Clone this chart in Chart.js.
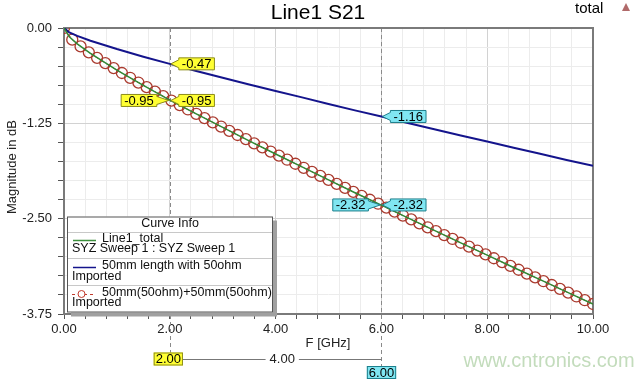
<!DOCTYPE html>
<html><head><meta charset="utf-8">
<script src="https://cdn.jsdelivr.net/npm/chart.js@4/dist/chart.umd.min.js"></script>
<style>html,body{margin:0;padding:0;background:#fff;}#wrap{width:640px;height:383px;position:relative;}</style>
</head><body><div id="wrap"><canvas id="c" width="640" height="383"></canvas></div>
<script>
const chartTitle = "Line1 S21";
const xTitle = "F [GHz]";
const yTitle = "Magnitude in dB";
const legendTitle = "Curve Info";
const seriesNames = ["Line1_total", "50mm length with 50ohm", "50mm(50ohm)+50mm(50ohm)"];
const seriesSub = ["SYZ Sweep 1 : SYZ Sweep 1", "Imported", "Imported"];

const freqLine = [0,0.1,0.25,0.5,1,1.5,2,2.5,3,3.5,4,4.5,5,5.5,6,6.5,7,7.5,8,8.5,9,9.5,10];
const magBlue = [0,-0.058,-0.104,-0.167,-0.276,-0.376,-0.470,-0.563,-0.652,-0.740,-0.826,-0.910,-0.996,-1.080,-1.160,-1.245,-1.327,-1.409,-1.489,-1.570,-1.650,-1.730,-1.805];
const magGreen = [0,-0.116,-0.208,-0.334,-0.552,-0.752,-0.945,-1.126,-1.304,-1.480,-1.652,-1.820,-1.992,-2.160,-2.322,-2.490,-2.654,-2.818,-2.978,-3.140,-3.300,-3.460,-3.619];

const freqRed = [0,0.156,0.313,0.469,0.625,0.781,0.938,1.094,1.25,1.406,1.563,1.719,1.875,2.031,2.188,2.344,2.5,2.656,2.813,2.969,3.125,3.281,3.438,3.594,3.75,3.906,4.063,4.219,4.375,4.531,4.688,4.844,5,5.156,5.313,5.469,5.625,5.781,5.938,6.094,6.25,6.406,6.563,6.719,6.875,7.031,7.188,7.344,7.5,7.656,7.813,7.969,8.125,8.281,8.438,8.594,8.75,8.906,9.063,9.219,9.375,9.531,9.688,9.844,10];
const magRed = [0,-0.153,-0.241,-0.319,-0.391,-0.460,-0.526,-0.590,-0.653,-0.715,-0.776,-0.835,-0.894,-0.953,-1.011,-1.068,-1.125,-1.181,-1.237,-1.292,-1.348,-1.403,-1.457,-1.512,-1.566,-1.620,-1.673,-1.727,-1.780,-1.833,-1.886,-1.939,-1.992,-2.044,-2.096,-2.149,-2.201,-2.252,-2.304,-2.356,-2.408,-2.459,-2.510,-2.562,-2.613,-2.664,-2.715,-2.766,-2.816,-2.867,-2.918,-2.968,-3.019,-3.069,-3.119,-3.170,-3.220,-3.270,-3.320,-3.370,-3.420,-3.470,-3.520,-3.569,-3.619];

const markerX = [2, 6];
const markerBlue = [-0.47, -1.16];
const markerGreen = [-0.95, -2.32];
const markerRed = [-0.95, -2.32];
const markerColors = ["#ffff33", "#80e6f2"];
const markerBorders = ["#8c8c1a", "#1d7f8c"];
const deltaLabel = "4.00";
const watermark = "www.cntronics.com";

const FONT = "'Liberation Sans', Arial, sans-serif";
const pts = (xs, ys) => xs.map((x, i) => ({x: x, y: ys[i]}));
const near = (v, s) => Math.abs(v / s - Math.round(v / s)) < 1e-6;

function tag(ctx, px, py, text, side, fill, stroke) {
  ctx.font = "13px " + FONT;
  const w = ctx.measureText(text).width + 6, h = 12;
  const gap = side === "right" ? 9 : 13;
  let bx = side === "right" ? px + gap : px - gap - w;
  const by = py - h / 2;
  ctx.fillStyle = fill; ctx.strokeStyle = stroke; ctx.lineWidth = 1;
  ctx.beginPath();
  if (side === "right") {
    ctx.moveTo(px + 1, py); ctx.lineTo(bx, by + 2); ctx.lineTo(bx, by);
    ctx.lineTo(bx + w, by); ctx.lineTo(bx + w, by + h); ctx.lineTo(bx, by + h); ctx.lineTo(bx, by + h - 2);
  } else {
    ctx.moveTo(px - 1, py); ctx.lineTo(bx + w, by + h - 2); ctx.lineTo(bx + w, by + h);
    ctx.lineTo(bx, by + h); ctx.lineTo(bx, by); ctx.lineTo(bx + w, by); ctx.lineTo(bx + w, by + 2);
  }
  ctx.closePath(); ctx.fill(); ctx.stroke();
  ctx.fillStyle = "#000"; ctx.textAlign = "center"; ctx.textBaseline = "middle";
  ctx.fillText(text, bx + w / 2, py + 0.5);
}
function box(ctx, cx, cy, text, fill, stroke) {
  ctx.font = "13px " + FONT;
  const w = ctx.measureText(text).width + 4, h = 13;
  ctx.fillStyle = fill; ctx.strokeStyle = stroke; ctx.lineWidth = 1;
  ctx.fillRect(cx - w / 2, cy - h / 2, w, h);
  ctx.strokeRect(cx - w / 2 + 0.5, cy - h / 2 + 0.5, w - 1, h - 1);
  ctx.fillStyle = "#000"; ctx.textAlign = "center"; ctx.textBaseline = "middle";
  ctx.fillText(text, cx, cy + 0.5);
  return w;
}

const deco = {
  id: "deco",
  beforeDatasetsDraw(chart) {
    const ctx = chart.ctx, a = chart.chartArea, xs = chart.scales.x;
    ctx.save();
    ctx.strokeStyle = "#8a8a8a"; ctx.lineWidth = 1; ctx.setLineDash([4, 3]);
    const ends = [353, 366];
    markerX.forEach((f, i) => {
      const px = Math.round(xs.getPixelForValue(f)) + 0.5;
      ctx.beginPath(); ctx.moveTo(px, a.top); ctx.lineTo(px, ends[i]); ctx.stroke();
    });
    ctx.setLineDash([]);
    ctx.strokeStyle = "#7a7a7a"; ctx.lineWidth = 2;
    ctx.strokeRect(a.left, a.top, a.right - a.left, a.bottom - a.top);
    ctx.restore();
  },
  afterDraw(chart) {
    const ctx = chart.ctx, a = chart.chartArea, xs = chart.scales.x, ys = chart.scales.y;
    ctx.save();
    ctx.fillStyle = "#000"; ctx.textAlign = "center"; ctx.textBaseline = "alphabetic";
    ctx.font = "21px " + FONT; ctx.fillText(chartTitle, 318, 19);
    ctx.textAlign = "left"; ctx.font = "15px " + FONT; ctx.fillText("total", 575, 13);
    ctx.fillStyle = "#b06a6a";
    ctx.beginPath(); ctx.moveTo(626, 3); ctx.lineTo(630, 11); ctx.lineTo(622, 11); ctx.closePath(); ctx.fill();
    ctx.fillStyle = "#222"; ctx.font = "13px " + FONT; ctx.textAlign = "center"; ctx.textBaseline = "middle";
    ctx.fillText(xTitle, (a.left + a.right) / 2 - 0.5, 343);
    ctx.save(); ctx.translate(12, 167); ctx.rotate(-Math.PI / 2); ctx.fillText(yTitle, 0, 0); ctx.restore();
    markerX.forEach((f, i) => {
      const px = xs.getPixelForValue(f);
      tag(ctx, px, ys.getPixelForValue(markerBlue[i]), markerBlue[i].toFixed(2), "right", markerColors[i], markerBorders[i]);
      tag(ctx, px, ys.getPixelForValue(markerGreen[i]), markerGreen[i].toFixed(2), "right", markerColors[i], markerBorders[i]);
      tag(ctx, px, ys.getPixelForValue(markerRed[i]), markerRed[i].toFixed(2), "left", markerColors[i], markerBorders[i]);
    });
    const p0 = xs.getPixelForValue(markerX[0]), p1 = Math.round(xs.getPixelForValue(markerX[1])) + 0.5;
    const w0 = box(ctx, p0 - 1.5, 359, markerX[0].toFixed(2), markerColors[0], markerBorders[0]);
    ctx.strokeStyle = "#777"; ctx.lineWidth = 1;
    ctx.beginPath(); ctx.moveTo(p0 - 1.5 + w0 / 2, 359.5); ctx.lineTo(p1, 359.5); ctx.stroke();
    const mid = (p0 - 1.5 + w0 / 2 + p1) / 2;
    ctx.font = "13px " + FONT; const dw = ctx.measureText(deltaLabel).width + 8;
    ctx.fillStyle = "#fff"; ctx.fillRect(mid - dw / 2, 352, dw, 14);
    ctx.fillStyle = "#222"; ctx.textAlign = "center"; ctx.textBaseline = "middle";
    ctx.fillText(deltaLabel, mid, 359.5);
    box(ctx, p1, 372.5, markerX[1].toFixed(2), markerColors[1], markerBorders[1]);
    const L = 67, T = 216.5, W = 206, H = 96;
    ctx.fillStyle = "#a0a0a0"; ctx.fillRect(L + 4, T + 4, W, H);
    ctx.fillStyle = "#fff"; ctx.fillRect(L, T, W, H);
    ctx.strokeStyle = "#555"; ctx.lineWidth = 1; ctx.strokeRect(L + 0.5, T + 0.5, W - 1, H - 1);
    ctx.strokeStyle = "#c8c8c8";
    [232.5, 258.5, 285.5].forEach(y => { ctx.beginPath(); ctx.moveTo(L + 1, y); ctx.lineTo(L + W - 1, y); ctx.stroke(); });
    ctx.fillStyle = "#111"; ctx.font = "12.5px " + FONT; ctx.textAlign = "center"; ctx.textBaseline = "middle";
    ctx.fillText(legendTitle, L + W / 2, 223.5);
    ctx.textAlign = "left";
    const nameY = [238.5, 266, 293], subY = [249, 276.5, 303];
    for (let i = 0; i < 3; i++) {
      ctx.fillStyle = "#111";
      ctx.fillText(seriesNames[i], 102, nameY[i]);
      ctx.fillText(seriesSub[i], 72, subY[i]);
    }
    ctx.lineWidth = 1.5;
    ctx.strokeStyle = "#3c8f3c"; ctx.beginPath(); ctx.moveTo(73, 240.5); ctx.lineTo(96, 240.5); ctx.stroke();
    ctx.strokeStyle = "#14148c"; ctx.beginPath(); ctx.moveTo(73, 267.5); ctx.lineTo(96, 267.5); ctx.stroke();
    ctx.strokeStyle = "#c0392b"; ctx.lineWidth = 1; ctx.setLineDash([3, 3]);
    ctx.beginPath(); ctx.moveTo(72, 294.5); ctx.lineTo(96, 294.5); ctx.stroke(); ctx.setLineDash([]);
    ctx.fillStyle = "#fff"; ctx.beginPath(); ctx.arc(81.5, 294, 3.5, 0, Math.PI * 2); ctx.fill(); ctx.stroke();
    ctx.fillStyle = "#c3dcbc"; ctx.font = "20px " + FONT; ctx.textAlign = "center"; ctx.textBaseline = "middle";
    ctx.fillText(watermark, 549, 361);
    ctx.restore();
  }
};

new Chart(document.getElementById("c"), {
  type: "line",
  data: {
    datasets: [
      { label: seriesNames[0], data: pts(freqLine, magGreen), borderColor: "#2f8a35", borderWidth: 1.5, pointRadius: 0, tension: 0 },
      { label: seriesNames[1], data: pts(freqLine, magBlue), borderColor: "#14148c", borderWidth: 2, pointRadius: 0, tension: 0 },
      { label: seriesNames[2], data: pts(freqRed, magRed), borderColor: "#c0392b", borderWidth: 1, borderDash: [4, 3],
        pointRadius: 5.5, pointBorderWidth: 1.3, pointBorderColor: "#aa3a2e", pointBackgroundColor: "rgba(255,255,255,0)", tension: 0 }
    ]
  },
  options: {
    responsive: false, animation: false, events: [],
    layout: { padding: { top: 28, right: 47, left: 0, bottom: 0 } },
    plugins: { legend: { display: false }, title: { display: false }, tooltip: { enabled: false } },
    scales: {
      x: {
        type: "linear", min: 0, max: 10,
        afterFit: s => { s.height = 69; },
        border: { display: false },
        grid: { color: c => near(c.tick.value, 2) ? "#d2d2d2" : "#ececec", tickColor: "#555", tickLength: 5, lineWidth: 1 },
        ticks: { stepSize: 0.4, autoSkip: false, maxRotation: 0, padding: 3, color: "#222", font: { family: FONT, size: 13 },
          callback: v => near(v, 2) ? Number(v).toFixed(2) : "" }
      },
      y: {
        type: "linear", min: -3.75, max: 0,
        afterFit: s => { s.width = 64; },
        border: { display: false },
        grid: { color: c => near(c.tick.value, 1.25) ? "#d2d2d2" : "#ececec", tickColor: "#555", tickLength: 6, lineWidth: 1 },
        ticks: { stepSize: 0.25, autoSkip: false, padding: 6, color: "#222", font: { family: FONT, size: 13 },
          callback: v => near(v, 1.25) ? Number(v).toFixed(2) : "" }
      }
    }
  },
  plugins: [deco]
});
</script>
</body></html>
